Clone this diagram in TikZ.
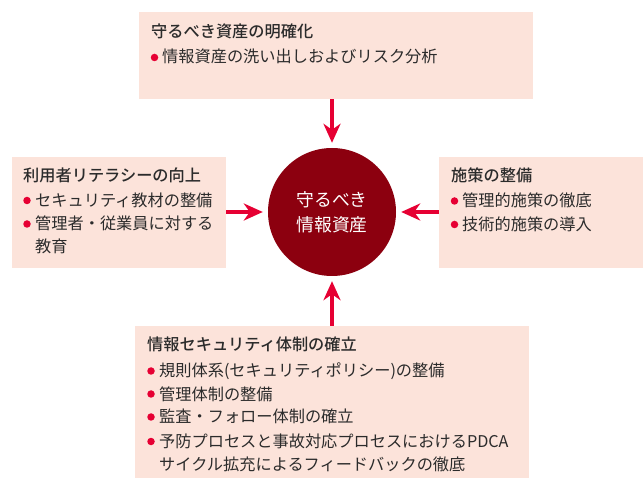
\documentclass[tikz,border=0pt]{standalone}
\usepackage{fontspec}
\setmainfont{Noto Sans CJK JP}[BoldFont={Noto Sans CJK JP Medium}]
\usetikzlibrary{arrows.meta}
\definecolor{boxfill}{HTML}{FCE3DA}
\definecolor{circfill}{HTML}{8C000F}
\definecolor{arrred}{HTML}{E60033}
\definecolor{txt}{HTML}{2B2B2B}
\tikzset{
  panel/.style={fill=boxfill, draw=none, inner sep=0pt, anchor=north west},
  ttl/.style={anchor=base west, inner sep=0pt, text=txt, font=\fontsize{16.2}{20}\selectfont\bfseries},
  itm/.style={anchor=base west, inner sep=0pt, text=txt, font=\fontsize{16.2}{20}\selectfont},
  dot/.style={circle, fill=arrred, inner sep=0pt, minimum size=7.5pt},
  arr/.style={draw=arrred, line width=3.2pt, -{Stealth[length=19pt,width=17pt,inset=6pt]}, shorten >=5pt},
}
\begin{document}
\begin{tikzpicture}[x=1pt,y=-1pt]
\useasboundingbox (0,0) rectangle (643,478);
% panels
\node[panel, minimum width=394pt, minimum height=87pt] (top) at (139,12) {};
\node[panel, minimum width=214pt, minimum height=111pt] (left) at (12,157) {};
\node[panel, minimum width=204pt, minimum height=111pt] (right) at (439,157) {};
\node[panel, minimum width=394pt, minimum height=152pt] (bot) at (135,326) {};
% centre circle
\node[circle, fill=circfill, minimum size=128pt, inner sep=0pt, text=white, align=center,
      font=\fontsize{17.8}{25}\selectfont] (circ) at (332,212) {守るべき\\情報資産};
% arrows
\draw[arr] (top.south -| circ.center) -- (circ.north);
\draw[arr] (bot.north -| circ.center) -- (circ.south);
\draw[arr] (left.east |- circ.center) -- (circ.west);
\draw[arr] (right.west |- circ.center) -- (circ.east);
% top panel text
\node[ttl] (t0) at (151,38) {守るべき資産の明確化};
\node[dot] (td1) at (154.5,57.5) {};
\node[itm] (t1) at (162,63) {情報資産の洗い出しおよびリスク分析};
% left panel text
\node[ttl] (l0) at (23,182) {利用者リテラシーの向上};
\node[dot] (ld1) at (27,200.5) {};
\node[itm] (l1) at (35,206.5) {セキュリティ教材の整備};
\node[dot] (ld2) at (27,224) {};
\node[itm] (l2) at (35,230) {管理者・従業員に対する};
\node[itm] (l3) at (35,253) {教育};
% right panel text
\node[ttl] (r0) at (451,182) {施策の整備};
\node[dot] (rd1) at (454.5,201) {};
\node[itm] (r1) at (462,207) {管理的施策の徹底};
\node[dot] (rd2) at (454.5,224.5) {};
\node[itm] (r2) at (462,230.5) {技術的施策の導入};
% bottom panel text
\node[ttl] (b0) at (147,351) {情報セキュリティ体制の確立};
\node[dot] (bd1) at (151,371) {};
\node[itm] (b1) at (159,377) {規則体系(セキュリティポリシー)の整備};
\node[dot] (bd2) at (151,394) {};
\node[itm] (b2) at (159,400) {管理体制の整備};
\node[dot] (bd3) at (151,417) {};
\node[itm] (b3) at (159,423) {監査・フォロー体制の確立};
\node[dot] (bd4) at (151,441.5) {};
\node[itm] (b4) at (159,447.5) {予防プロセスと事故対応プロセスにおけるPDCA};
\node[itm] (b5) at (159,470) {サイクル拡充によるフィードバックの徹底};
\end{tikzpicture}
\end{document}
